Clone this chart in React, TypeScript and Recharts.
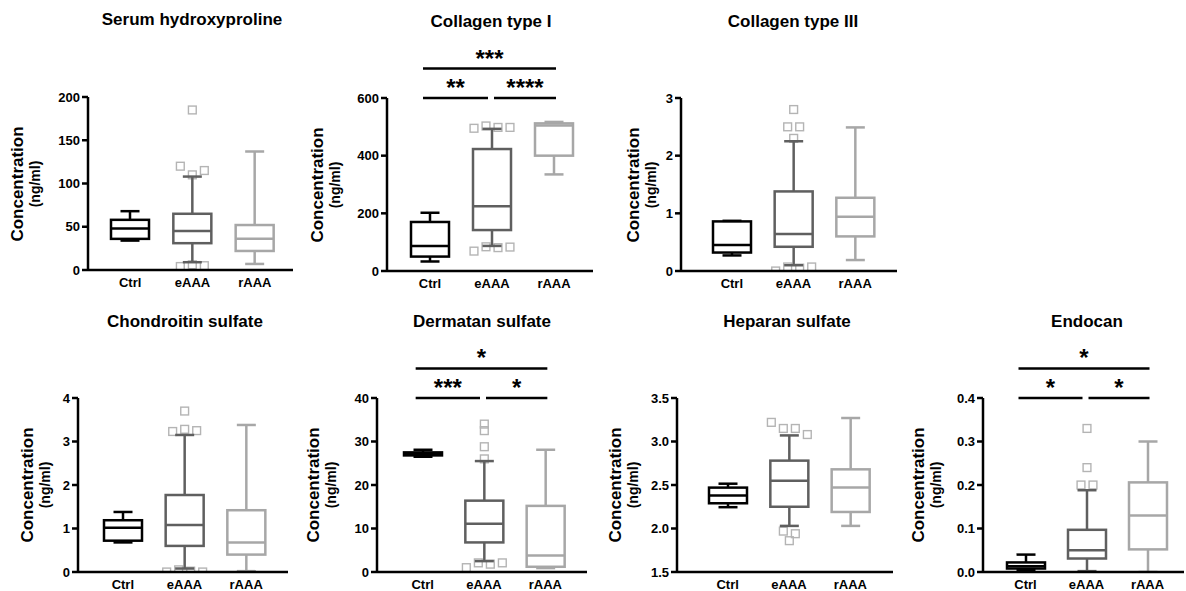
import { Bar, ComposedChart, ReferenceLine, XAxis, YAxis } from "recharts"

const FONT = '"Liberation Sans", Arial, sans-serif'
const groups = ["Ctrl", "eAAA", "rAAA"]
const groupColors = ["#000000", "#5f5f5f", "#a7a7a7"]
const outlierStroke = "#b4b4b4"

// box stats per group: [min, q1, median, q3, max]
const hydroxyprolineStats = [[34, 36, 48, 58, 68], [9, 31, 45, 65, 108], [7, 22, 36, 52, 137]]
const hydroxyprolineOutliers = [[], [185, 120, 110, 115, 4, 6, 5], []]
const hydroxyprolineTicks = [0, 50, 100, 150, 200]

const collagen1Stats = [[33, 50, 87, 170, 202], [87, 142, 225, 423, 493], [335, 400, 505, 512, 517]]
const collagen1Outliers = [[], [495, 503, 498, 498, 69, 84, 81, 83], []]
const collagen1Ticks = [0, 200, 400, 600]
const collagen1Sig = [
  { from: "Ctrl", to: "eAAA", stars: "**", level: 0 },
  { from: "eAAA", to: "rAAA", stars: "****", level: 0 },
  { from: "Ctrl", to: "rAAA", stars: "***", level: 1 },
]

const collagen3Stats = [[0.27, 0.32, 0.45, 0.86, 0.87], [0.1, 0.42, 0.64, 1.38, 2.25], [0.19, 0.6, 0.94, 1.27, 2.49]]
const collagen3Outliers = [[], [2.8, 2.5, 2.5, 2.3, 0, 0.07, 0.05, 0.07], []]
const collagen3Ticks = [0, 1, 2, 3]

const chondroitinStats = [[0.68, 0.72, 1.02, 1.19, 1.38], [0.08, 0.6, 1.08, 1.77, 3.15], [0.02, 0.4, 0.68, 1.42, 3.38]]
const chondroitinOutliers = [[], [3.7, 3.23, 3.28, 3.25, 0, 0.05, 0.02, 0], []]
const chondroitinTicks = [0, 1, 2, 3, 4]

const dermatanStats = [[26.5, 26.8, 27.1, 27.5, 28.1], [2.5, 6.8, 11.1, 16.4, 25.5], [0.9, 1.2, 3.8, 15.2, 28.1]]
const dermatanOutliers = [[], [34, 32.5, 28.8, 26, 1, 2.1, 1.8, 2.1], []]
const dermatanTicks = [0, 10, 20, 30, 40]
const dermatanSig = [
  { from: "Ctrl", to: "eAAA", stars: "***", level: 0 },
  { from: "eAAA", to: "rAAA", stars: "*", level: 0 },
  { from: "Ctrl", to: "rAAA", stars: "*", level: 1 },
]

const heparanStats = [[2.245, 2.29, 2.38, 2.47, 2.515], [2.03, 2.25, 2.55, 2.78, 3.07], [2.03, 2.19, 2.47, 2.68, 3.27]]
const heparanOutliers = [[], [3.22, 3.15, 3.15, 3.08, 1.86, 1.97, 1.94], []]
const heparanTicks = [1.5, 2.0, 2.5, 3.0, 3.5]

const endocanStats = [[0.005, 0.008, 0.013, 0.022, 0.04], [0.002, 0.031, 0.05, 0.097, 0.188], [0, 0.052, 0.13, 0.206, 0.3]]
const endocanOutliers = [[], [0.33, 0.24, 0.2, 0.2], []]
const endocanTicks = [0, 0.1, 0.2, 0.3, 0.4]
const endocanSig = [
  { from: "Ctrl", to: "eAAA", stars: "*", level: 0 },
  { from: "eAAA", to: "rAAA", stars: "*", level: 0 },
  { from: "Ctrl", to: "rAAA", stars: "*", level: 1 },
]

type Sig = { from: string; to: string; stars: string; level: number }
type Layout = {
  left: number; right: number; top: number; bottom: number
  padL: number; padR: number; labelX: number; titleX: number; titleY: number
}

const Y_W = 60
const TOP = 64
const X_H = 30

// spread outliers that sit close together horizontally
function spread(py: number[]) {
  const order = py.map((_, i) => i).sort((a, b) => py[a] - py[b])
  const offs = py.map(() => 0)
  let run: number[] = []
  const flush = () => {
    const members = [...run].sort((a, b) => a - b)
    members.forEach((m, k) => (offs[m] = (k - (members.length - 1) / 2) * 12))
    run = []
  }
  order.forEach((i, k) => {
    if (k > 0 && py[i] - py[order[k - 1]] > 6.3) flush()
    run.push(i)
  })
  if (run.length) flush()
  return offs
}

function BoxShape(props: any) {
  const { x, y, width, height, payload } = props
  const c = groupColors[groups.indexOf(payload.name)]
  const { min, q1, median, q3, max, out } = payload
  const px = (v: number) => y + (height * (max - v)) / (max - min)
  const cx = x + width / 2
  const half = width / 4
  const py: number[] = out.map(px)
  const dx = spread(py)
  const sw = 2.5
  return (
    <g>
      {py.map((p, i) => (
        <rect key={i} x={cx + dx[i] - 3.9} y={p - 3.9} width={7.8} height={7.8} fill="none" stroke={outlierStroke} strokeWidth={1.4} />
      ))}
      <line x1={cx} x2={cx} y1={px(max)} y2={px(q3)} stroke={c} strokeWidth={sw} />
      <line x1={cx} x2={cx} y1={px(q1)} y2={px(min)} stroke={c} strokeWidth={sw} />
      <line x1={cx - half} x2={cx + half} y1={px(max)} y2={px(max)} stroke={c} strokeWidth={sw} />
      <line x1={cx - half} x2={cx + half} y1={px(min)} y2={px(min)} stroke={c} strokeWidth={sw} />
      <rect x={x} y={px(q3)} width={width} height={px(q1) - px(q3)} fill="none" stroke={c} strokeWidth={sw} />
      <line x1={x} x2={x + width} y1={px(median)} y2={px(median)} stroke={c} strokeWidth={sw} />
    </g>
  )
}

// significance bracket drawn from category centres, ends trimmed a little
const bracketShape = (s: Sig) => (p: any) => {
  const a = groups.indexOf(s.from)
  const b = groups.indexOf(s.to)
  const x1 = p.x1 + (a === 0 ? -7 : 2)
  const x2 = p.x2 + (b === groups.length - 1 ? 2 : -4)
  return (
    <g>
      <line x1={x1} x2={x2} y1={p.y1} y2={p.y2} stroke="#000" strokeWidth={2.5} />
      <text
        x={(x1 + x2) / 2}
        y={p.y1 - 2}
        textAnchor="middle"
        fill="#000"
        fontSize={24}
        fontWeight={700}
        fontFamily={FONT}
      >
        {s.stars}
      </text>
    </g>
  )
}

function Panel({
  title, stats, outliers, ticks, decimals = 0, sig = [], lay,
}: {
  title: string; stats: number[][]; outliers: number[][]; ticks: number[]
  decimals?: number; sig?: Sig[]; lay: Layout
}) {
  const rows = groups.map((name, i) => {
    const [min, q1, median, q3, max] = stats[i]
    return { name, range: [min, max], min, q1, median, q3, max, out: outliers[i] }
  })
  const lo = ticks[0]
  const hi = ticks[ticks.length - 1]
  const plotW = lay.right - lay.left
  const plotH = lay.bottom - lay.top
  const midY = (lay.top + lay.bottom) / 2
  const tickStyle = { fill: "#000", fontSize: 13, fontWeight: 700, fontFamily: FONT }
  const axisStyle = { stroke: "#000", strokeWidth: 2.5 }
  const rot: React.CSSProperties = {
    position: "absolute", top: midY, transform: "translate(-50%, -50%) rotate(-90deg)",
    whiteSpace: "nowrap", fontWeight: 700, fontFamily: FONT, lineHeight: 1, color: "#000",
  }
  return (
    <>
      <div
        style={{
          position: "absolute", left: lay.titleX - 150, top: lay.titleY - 10, width: 300,
          textAlign: "center", fontSize: 17, fontWeight: 700, fontFamily: FONT, lineHeight: "20px",
        }}
      >
        {title}
      </div>
      <div style={{ ...rot, left: lay.labelX, fontSize: 17 }}>Concentration</div>
      <div style={{ ...rot, left: lay.labelX + 18, fontSize: 14 }}>(ng/ml)</div>
      <div style={{ position: "absolute", left: lay.left - Y_W, top: lay.top - TOP }}>
        <ComposedChart
          width={Y_W + plotW + 1}
          height={TOP + plotH + X_H}
          data={rows}
          margin={{ top: TOP, right: 1, bottom: 0, left: 0 }}
        >
          <XAxis
            dataKey="name"
            padding={{ left: lay.padL, right: lay.padR }}
            axisLine={axisStyle}
            tickLine={false}
            tick={tickStyle}
            height={X_H}
            interval={0}
          />
          <YAxis
            domain={[lo, hi]}
            ticks={ticks}
            allowDataOverflow
            interval={0}
            width={Y_W}
            axisLine={axisStyle}
            tickLine={axisStyle}
            tickSize={6}
            tick={tickStyle}
            tickFormatter={(v: number) => v.toFixed(decimals)}
          />
          <Bar dataKey="range" barSize={38} isAnimationActive={false} shape={(p: any) => <BoxShape {...p} />} />
          {sig.map((s, k) => {
            const yv = hi + s.level * (hi - lo) * 0.17
            return (
              <ReferenceLine
                key={k}
                segment={[{ x: s.from, y: yv }, { x: s.to, y: yv }]}
                ifOverflow="visible"
                shape={bracketShape(s)}
              />
            )
          })}
        </ComposedChart>
      </div>
    </>
  )
}

export default function App() {
  return (
    <div
      style={{
        position: "absolute", left: 0, top: 0, width: 1186, height: 591,
        overflow: "hidden", background: "#fff",
      }}
    >
      <Panel
        title="Serum hydroxyproline"
        stats={hydroxyprolineStats}
        outliers={hydroxyprolineOutliers}
        ticks={hydroxyprolineTicks}
        lay={{ left: 88, right: 293, top: 97, bottom: 270, padL: 11, padR: 7, labelX: 17, titleX: 192, titleY: 20 }}
      />
      <Panel
        title="Collagen type I"
        stats={collagen1Stats}
        outliers={collagen1Outliers}
        ticks={collagen1Ticks}
        sig={collagen1Sig}
        lay={{ left: 387, right: 593, top: 98, bottom: 271, padL: 12, padR: 8, labelX: 317, titleX: 491, titleY: 22 }}
      />
      <Panel
        title="Collagen type III"
        stats={collagen3Stats}
        outliers={collagen3Outliers}
        ticks={collagen3Ticks}
        lay={{ left: 681, right: 897, top: 98, bottom: 271, padL: 20, padR: 11, labelX: 633, titleX: 793, titleY: 22 }}
      />
      <Panel
        title="Chondroitin sulfate"
        stats={chondroitinStats}
        outliers={chondroitinOutliers}
        ticks={chondroitinTicks}
        lay={{ left: 78, right: 288, top: 398, bottom: 572, padL: 14, padR: 11, labelX: 27, titleX: 185, titleY: 322 }}
      />
      <Panel
        title="Dermatan sulfate"
        stats={dermatanStats}
        outliers={dermatanOutliers}
        ticks={dermatanTicks}
        sig={dermatanSig}
        lay={{ left: 377, right: 587, top: 398, bottom: 572, padL: 15, padR: 11, labelX: 313, titleX: 482, titleY: 322 }}
      />
      <Panel
        title="Heparan sulfate"
        stats={heparanStats}
        outliers={heparanOutliers}
        ticks={heparanTicks}
        decimals={1}
        lay={{ left: 677, right: 893, top: 398, bottom: 572, padL: 20, padR: 12, labelX: 615, titleX: 787, titleY: 322 }}
      />
      <Panel
        title="Endocan"
        stats={endocanStats}
        outliers={endocanOutliers}
        ticks={endocanTicks}
        decimals={1}
        sig={endocanSig}
        lay={{ left: 983, right: 1184, top: 398, bottom: 572, padL: 12, padR: 6, labelX: 918, titleX: 1087, titleY: 322 }}
      />
    </div>
  )
}
